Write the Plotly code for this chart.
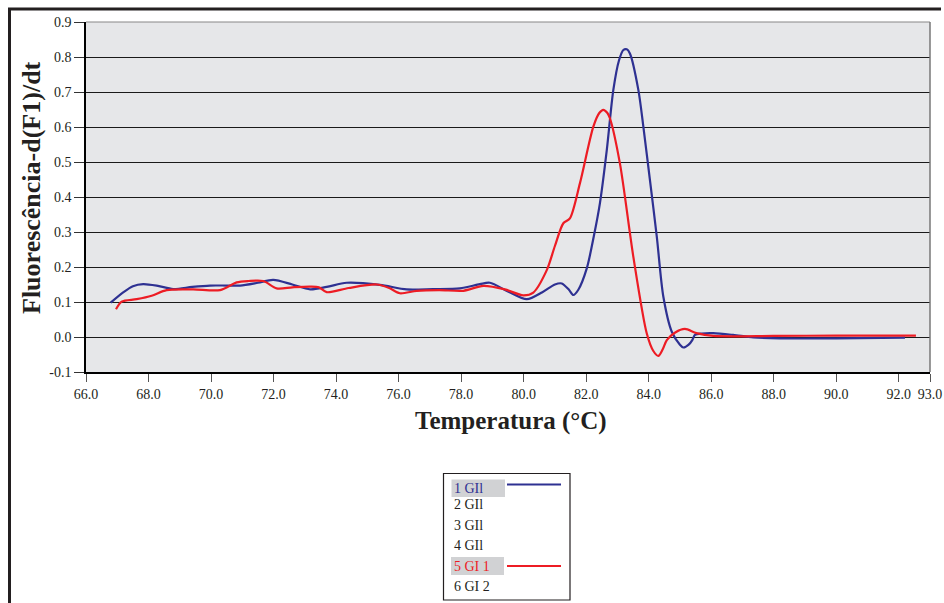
import plotly.graph_objects as go

# ---------------- data ----------------
blue_t = [66.79, 67.2, 67.5, 67.83, 68.3, 68.79, 69.4, 69.97, 70.5, 70.93, 71.5, 71.99,
          72.6, 73.17, 73.7, 74.34, 75.4, 76.26, 77.1, 77.96, 78.6, 78.92, 79.5, 80.1,
          80.6, 81.0, 81.22, 81.45, 81.59, 81.75, 82.02, 82.25, 82.44, 82.66, 82.87,
          83.05, 83.19, 83.3, 83.4, 83.67, 83.83, 84.04, 84.26, 84.47, 84.74, 85.0,
          85.11, 85.28, 85.4, 85.48, 85.7, 86.07, 86.7, 87.35, 88.2, 90.0, 92.2]
blue_v = [0.098, 0.128, 0.145, 0.151, 0.146, 0.137, 0.143, 0.147, 0.147, 0.147, 0.155, 0.163,
          0.150, 0.136, 0.143, 0.155, 0.149, 0.136, 0.137, 0.139, 0.151, 0.155, 0.130, 0.108,
          0.128, 0.150, 0.153, 0.135, 0.120, 0.135, 0.196, 0.290, 0.382, 0.534, 0.706,
          0.790, 0.820, 0.822, 0.810, 0.706, 0.601, 0.449, 0.287, 0.115, 0.015, -0.022,
          -0.030, -0.022, -0.008, 0.006, 0.010, 0.011, 0.006, -0.001, -0.004, -0.004, -0.002]

red_t = [66.96, 67.14, 67.62, 68.1, 68.58, 69.43, 70.29, 70.82, 71.2, 71.67, 72.1, 72.6,
         73.17, 73.45, 73.7, 74.4, 75.3, 75.7, 76.04, 76.58, 77.3, 78.07, 78.71, 79.4,
         79.99, 80.31, 80.74, 81.0, 81.27, 81.48, 81.8, 82.23, 82.42, 82.55, 82.68, 82.76,
         83.08, 83.51, 83.94, 84.15, 84.31, 84.45, 84.58, 84.85, 85.16, 85.53, 86.07,
         88.0, 90.0, 92.55]
red_v = [0.079, 0.101, 0.108, 0.118, 0.134, 0.136, 0.134, 0.156, 0.160, 0.160, 0.139, 0.142,
         0.144, 0.142, 0.128, 0.140, 0.150, 0.140, 0.125, 0.132, 0.134, 0.132, 0.146, 0.136,
         0.119, 0.127, 0.191, 0.260, 0.325, 0.339, 0.439, 0.601, 0.640, 0.649, 0.640, 0.625,
         0.496, 0.229, 0.010, -0.040, -0.054, -0.035, -0.009, 0.013, 0.023, 0.011, 0.003,
         0.003, 0.004, 0.004]

x_ticks = [66, 68, 70, 72, 74, 76, 78, 80, 82, 84, 86, 88, 90, 92, 93]
x_tick_labels = ["%.1f" % v for v in x_ticks]
y_ticks = [-0.1, 0.0, 0.1, 0.2, 0.3, 0.4, 0.5, 0.6, 0.7, 0.8, 0.9]
y_tick_labels = ["%.1f" % v for v in y_ticks]

legend_labels = ["1 GIl", "2 GIl", "3 GIl", "4 GIl", "5 GI 1", "6 GI 2"]

BLUE = "#2e3192"
RED = "#ed1c24"
TXT = "#231f20"
FONT = "Liberation Serif"

fig = go.Figure()
fig.add_trace(go.Scatter(x=blue_t, y=blue_v, mode="lines", name=legend_labels[0],
                         line=dict(color=BLUE, width=2.2, shape="spline", smoothing=0.8)))
fig.add_trace(go.Scatter(x=red_t, y=red_v, mode="lines", name=legend_labels[4],
                         line=dict(color=RED, width=2.2, shape="spline", smoothing=0.8)))

W, H = 944, 603
PL, PR, PT, PB = 86, 930, 22, 372          # plot area in pixels
ml, mr, mt, mb = PL, W - PR, PT, H - PB
pw = PR - PL
ph = PB - PT

def px(x):
    return (x - PL) / pw

def py(y):
    return (PB - y) / ph

fig.update_layout(
    width=W, height=H,
    margin=dict(l=ml, r=mr, t=mt, b=mb, pad=0, autoexpand=False),
    paper_bgcolor="white",
    plot_bgcolor="#e6e7e9",
    showlegend=False,
    font=dict(family=FONT, size=14, color=TXT),
)
fig.update_xaxes(range=[66, 93], tickvals=x_ticks, ticktext=x_tick_labels,
                 automargin=False,
                 showgrid=False, zeroline=False, showline=True, linecolor="black",
                 linewidth=1.5, ticks="outside", ticklen=8, tickcolor="#555",
                 tickfont=dict(family=FONT, size=14, color=TXT))
fig.update_yaxes(range=[-0.1, 0.9], tickvals=y_ticks, ticktext=y_tick_labels,
                 automargin=False,
                 showgrid=True, gridcolor="#1a1a1a", gridwidth=1, zeroline=False,
                 showline=True, linecolor="black", linewidth=1.5,
                 ticks="outside", ticklen=10, tickcolor="#333",
                 tickfont=dict(family=FONT, size=14, color=TXT))

shapes = []
# plot border top/right (gray)
shapes.append(dict(type="line", xref="paper", yref="paper", x0=0, x1=1, y0=1, y1=1,
                   line=dict(color="#888", width=1.2)))
shapes.append(dict(type="line", xref="paper", yref="paper", x0=1, x1=1, y0=0, y1=1,
                   line=dict(color="#777", width=1.5)))
# outer frame (top + left)
shapes.append(dict(type="line", xref="paper", yref="paper", x0=px(8), x1=px(941),
                   y0=py(9), y1=py(9), line=dict(color="#231f20", width=3)))
shapes.append(dict(type="line", xref="paper", yref="paper", x0=px(9.5), x1=px(9.5),
                   y0=py(8), y1=py(610), line=dict(color="#231f20", width=3)))
# legend box
shapes.append(dict(type="rect", xref="paper", yref="paper", x0=px(443.5), x1=px(570),
                   y0=py(473.5), y1=py(600), line=dict(color="#231f20", width=1.2),
                   fillcolor="white"))
# highlight boxes
shapes.append(dict(type="rect", xref="paper", yref="paper", x0=px(451.5), x1=px(505),
                   y0=py(479.5), y1=py(497), line=dict(width=0), fillcolor="#d1d2d4"))
shapes.append(dict(type="rect", xref="paper", yref="paper", x0=px(451), x1=px(504),
                   y0=py(557), y1=py(575), line=dict(width=0), fillcolor="#d1d2d4"))
# legend lines
shapes.append(dict(type="line", xref="paper", yref="paper", x0=px(507), x1=px(561),
                   y0=py(484.5), y1=py(484.5), line=dict(color=BLUE, width=2.2)))
shapes.append(dict(type="line", xref="paper", yref="paper", x0=px(507), x1=px(561),
                   y0=py(566), y1=py(566), line=dict(color=RED, width=2.2)))

annotations = []
legend_y = [488, 505, 525, 545, 566, 586]
legend_colors = [BLUE, TXT, TXT, TXT, RED, TXT]
for lab, yy, cc in zip(legend_labels, legend_y, legend_colors):
    annotations.append(dict(text=lab, xref="paper", yref="paper", x=px(452), y=py(yy),
                            xanchor="left", yanchor="middle", showarrow=False,
                            font=dict(family=FONT, size=14, color=cc)))
annotations.append(dict(text="<b>Temperatura (°C)</b>", xref="paper", yref="paper",
                        x=px(511), y=py(421), xanchor="center", yanchor="middle",
                        showarrow=False, font=dict(family=FONT, size=25, color=TXT)))
annotations.append(dict(text="<b>Fluorescência-d(F1)/dt</b>", xref="paper", yref="paper",
                        x=px(31), y=py(188), xanchor="center", yanchor="middle",
                        textangle=-90, showarrow=False,
                        font=dict(family=FONT, size=26, color=TXT)))

fig.update_layout(shapes=shapes, annotations=annotations)
fig.write_html("out.html", config={"displayModeBar": False},
               post_script="document.body.style.margin='0';document.body.style.overflow='hidden';")
